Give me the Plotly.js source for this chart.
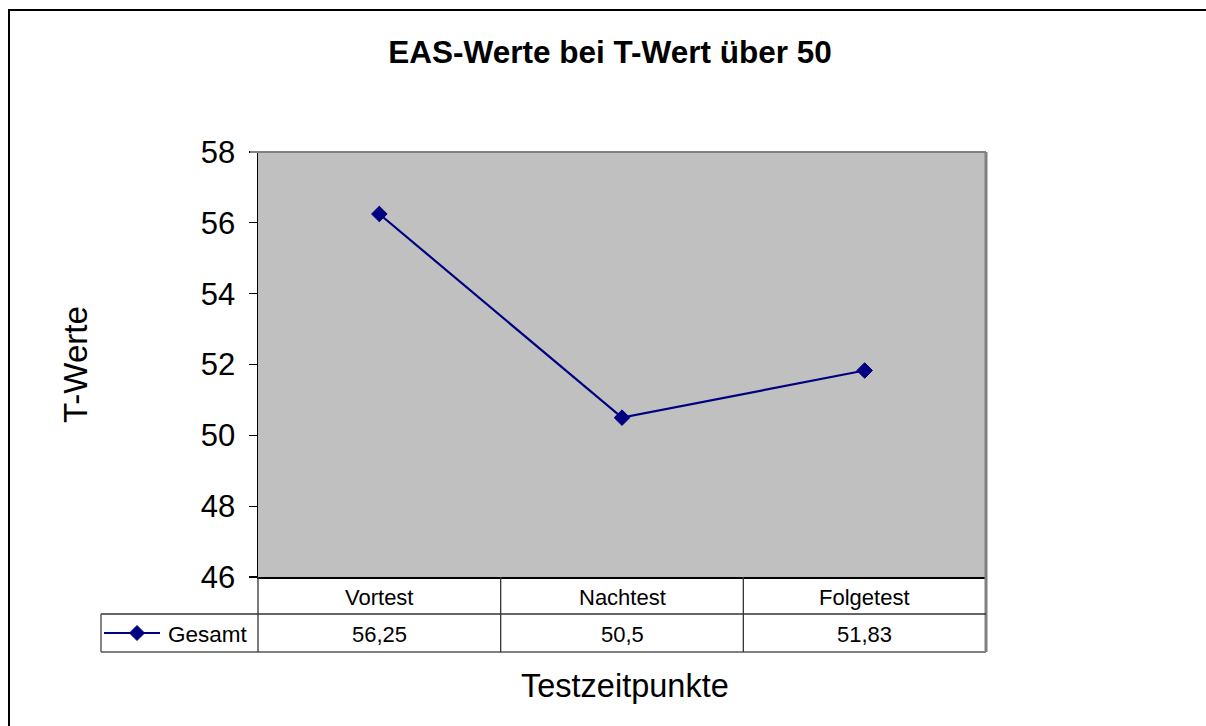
<!DOCTYPE html>
<html>
<head>
<meta charset="utf-8">
<script src="https://cdn.plot.ly/plotly-3.0.1.min.js"></script>
<style>
html,body{margin:0;padding:0;background:#fff;overflow:hidden;}
#wrap{position:relative;width:1206px;height:726px;overflow:hidden;}
#chart{width:1206px;height:726px;}
#frame{position:absolute;left:8px;top:9px;width:1300px;height:800px;border-left:2px solid #000;border-top:2px solid #000;pointer-events:none;}
#mask{position:absolute;right:0;top:11px;width:10px;height:60px;background:#fff;pointer-events:none;}
</style>
</head>
<body>
<div id="wrap"><div id="chart"></div><div id="mask"></div><div id="frame"></div></div>
<script>
// ---- data ----
const categories = ["Vortest", "Nachtest", "Folgetest"];
const seriesName = "Gesamt";
const values = [56.25, 50.5, 51.83];
const yTicks = [46, 48, 50, 52, 54, 56, 58];
const chartTitle = "EAS-Werte bei T-Wert über 50";
const xTitle = "Testzeitpunkte";
const yTitle = "T-Werte";

// ---- layout helpers ----
const W = 1206, H = 726;
const L = 258, R = 986, T = 152, B = 577;
const pw = R - L, ph = B - T;
const px = x => (x - L) / pw;          // pixel -> paper x
const py = y => 1 - (y - T) / ph;      // pixel -> paper y

const FONT = "Arial, 'Liberation Sans', sans-serif";
const navy = "#000080";
const gray = "#808080";

const rowCat = py(597), rowVal = py(634);
const tabMid = py(614), tabBot = py(652);
const legLeft = px(101);

const fmt = v => String(v).replace(".", ",");

const annotations = [];
categories.forEach((c, i) => {
  annotations.push({xref: "x", yref: "paper", x: c, y: rowCat, text: c, showarrow: false,
    xanchor: "center", yanchor: "middle", font: {family: FONT, size: 22, color: "#000"}});
  annotations.push({xref: "x", yref: "paper", x: c, y: rowVal, text: fmt(values[i]), showarrow: false,
    xanchor: "center", yanchor: "middle", font: {family: FONT, size: 22, color: "#000"}});
});
annotations.push({xref: "paper", yref: "paper", x: px(166), y: rowVal, text: seriesName, showarrow: false,
  xanchor: "left", yanchor: "middle", font: {family: FONT, size: 22.5, color: "#000"}});
annotations.push({xref: "paper", yref: "paper", x: px(625), y: py(686), text: xTitle, showarrow: false,
  xanchor: "center", yanchor: "middle", font: {family: FONT, size: 32.5, color: "#000"}});
annotations.push({xref: "paper", yref: "paper", x: px(75), y: py(365), text: yTitle, showarrow: false,
  textangle: -90, xanchor: "center", yanchor: "middle", font: {family: FONT, size: 33, color: "#000"}});

const dx = 7.5 / pw, dy = 7.5 / ph;
const lx = px(137), ly = py(633);
const shapes = [
  // plot area top border + tick at 58
  {type: "line", xref: "paper", yref: "paper", x0: px(250), x1: 1, y0: 1, y1: 1, line: {color: gray, width: 2}},
  // plot area right border down through table
  {type: "line", xref: "paper", yref: "paper", x0: px(986), x1: px(986), y0: 1, y1: tabBot, line: {color: gray, width: 3}},
  // table rows
  {type: "line", xref: "paper", yref: "paper", x0: legLeft, x1: 1, y0: tabMid, y1: tabMid, line: {color: "#333", width: 1.3}},
  {type: "line", xref: "paper", yref: "paper", x0: legLeft, x1: 1, y0: tabBot, y1: tabBot, line: {color: gray, width: 2}},
  {type: "line", xref: "paper", yref: "paper", x0: legLeft, x1: legLeft, y0: tabMid, y1: tabBot, line: {color: "#444", width: 1.3}},
  // column separators
  {type: "line", xref: "paper", yref: "paper", x0: 0, x1: 0, y0: 0, y1: tabBot, line: {color: "#333", width: 1.3}},
  {type: "line", xref: "x", yref: "paper", x0: 0.5, x1: 0.5, y0: 0, y1: tabBot, line: {color: "#333", width: 1.3}},
  {type: "line", xref: "x", yref: "paper", x0: 1.5, x1: 1.5, y0: 0, y1: tabBot, line: {color: "#333", width: 1.3}},
  // legend key line
  {type: "line", xref: "paper", yref: "paper", x0: px(104), x1: px(160), y0: ly, y1: ly, line: {color: navy, width: 2.2}},
  // legend key diamond
  {type: "path", xref: "paper", yref: "paper",
   path: `M ${lx - dx} ${ly} L ${lx} ${ly + dy} L ${lx + dx} ${ly} L ${lx} ${ly - dy} Z`,
   fillcolor: navy, line: {color: navy, width: 1}}
];

const trace = {
  type: "scatter", mode: "lines+markers", name: seriesName,
  x: categories, y: values,
  line: {color: navy, width: 2.2},
  marker: {symbol: "diamond", size: 12, color: navy, line: {color: navy, width: 1}},
  cliponaxis: false, hoverinfo: "skip"
};

const layout = {
  width: W, height: H,
  margin: {l: L, r: W - R, t: T, b: H - B, pad: 0},
  paper_bgcolor: "#ffffff",
  plot_bgcolor: "#c0c0c0",
  showlegend: false,
  font: {family: FONT, color: "#000"},
  title: {text: "<b>" + chartTitle + "</b>", xref: "container", yref: "container",
    x: 610 / W, y: 1 - 52 / H, xanchor: "center", yanchor: "middle",
    font: {family: FONT, size: 31.5, color: "#000"}},
  xaxis: {type: "category", categoryarray: categories, range: [-0.5, 2.5],
    showticklabels: false, ticks: "", showgrid: false, zeroline: false,
    showline: true, linecolor: "#000", linewidth: 2, fixedrange: true},
  yaxis: {range: [46, 58], tickvals: yTicks, ticktext: yTicks.map(String),
    ticks: "outside", ticklen: 8, tickwidth: 1.3, tickcolor: "#000",
    tickfont: {family: FONT, size: 31, color: "#000"},
    showgrid: false, zeroline: false, showline: true, linecolor: "#000", linewidth: 1.5,
    ticklabelstandoff: 7, fixedrange: true},
  shapes: shapes,
  annotations: annotations
};

Plotly.newPlot("chart", [trace], layout, {staticPlot: true, displayModeBar: false});
</script>
</body>
</html>
